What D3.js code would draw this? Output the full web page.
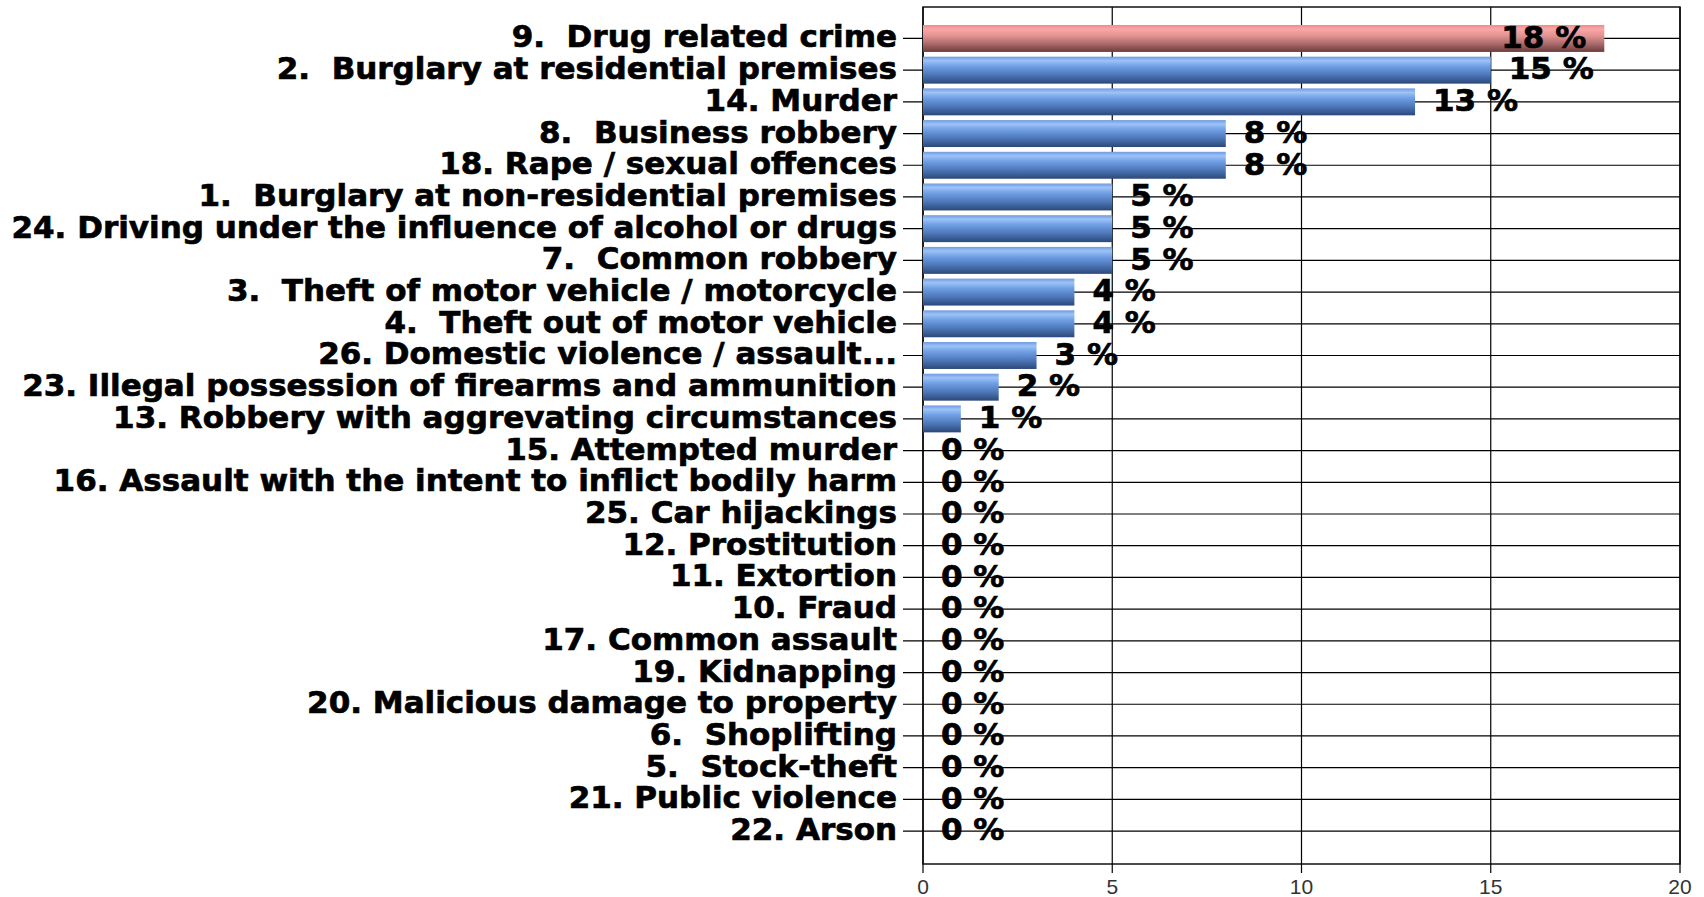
<!DOCTYPE html>
<html>
<head>
<meta charset="utf-8">
<script src="https://cdn.jsdelivr.net/npm/d3@7"></script>
<style>
  html, body { margin: 0; padding: 0; background: #fff; }
  svg { display: block; }
  text { white-space: pre; }
</style>
</head>
<body>
<svg id="chart" width="1704" height="897"></svg>
<script>
const categories = [
  "9.  Drug related crime",
  "2.  Burglary at residential premises",
  "14. Murder",
  "8.  Business robbery",
  "18. Rape / sexual offences",
  "1.  Burglary at non-residential premises",
  "24. Driving under the influence of alcohol or drugs",
  "7.  Common robbery",
  "3.  Theft of motor vehicle / motorcycle",
  "4.  Theft out of motor vehicle",
  "26. Domestic violence / assault...",
  "23. Illegal possession of firearms and ammunition",
  "13. Robbery with aggrevating circumstances",
  "15. Attempted murder",
  "16. Assault with the intent to inflict bodily harm",
  "25. Car hijackings",
  "12. Prostitution",
  "11. Extortion",
  "10. Fraud",
  "17. Common assault",
  "19. Kidnapping",
  "20. Malicious damage to property",
  "6.  Shoplifting",
  "5.  Stock-theft",
  "21. Public violence",
  "22. Arson"
];
const values = [18, 15, 13, 8, 8, 5, 5, 5, 4, 4, 3, 2, 1, 0, 0, 0, 0, 0, 0, 0, 0, 0, 0, 0, 0, 0];
const highlighted = ["9.  Drug related crime"];
const xTicks = [0, 5, 10, 15, 20];
const xDomain = [0, 20];

const svg = d3.select("#chart");
const plot = { left: 923, right: 1680, top: 7, bottom: 864 };

const x = d3.scaleLinear().domain(xDomain).range([plot.left, plot.right]);
const y = d3.scaleBand().domain(categories).range([22.6, 846.9]).paddingInner(0.15).paddingOuter(0.075);

const defs = svg.append("defs");
function grad(id, stops) {
  const g = defs.append("linearGradient").attr("id", id)
    .attr("x1", 0).attr("y1", 0).attr("x2", 0).attr("y2", 1);
  stops.forEach(s => g.append("stop").attr("offset", s[0]).attr("stop-color", s[1]));
}
grad("gBlue", [[0, "#6f9ae0"], [0.15, "#9dc3f7"], [0.35, "#71a0e6"], [0.7, "#4a74b4"], [1, "#2c4878"]]);
grad("gRed", [[0, "#f08a8a"], [0.15, "#f9a7a7"], [0.4, "#e39292"], [0.7, "#aa6a6a"], [1, "#6c3c3c"]]);

// vertical gridlines
svg.append("g").selectAll("line").data(xTicks).join("line")
  .attr("x1", d => x(d)).attr("x2", d => x(d))
  .attr("y1", plot.top).attr("y2", plot.bottom + 9)
  .attr("stroke", "#000").attr("stroke-width", 1.2);

// horizontal gridlines with ticks
svg.append("g").selectAll("line").data(categories).join("line")
  .attr("x1", plot.left - 20).attr("x2", plot.right)
  .attr("y1", d => y(d) + y.bandwidth() / 2).attr("y2", d => y(d) + y.bandwidth() / 2)
  .attr("stroke", "#000").attr("stroke-width", 1.2);

// plot frame
svg.append("rect")
  .attr("x", plot.left).attr("y", plot.top)
  .attr("width", plot.right - plot.left).attr("height", plot.bottom - plot.top)
  .attr("fill", "none").attr("stroke", "#000").attr("stroke-width", 1.4);

// bars
svg.append("g").selectAll("rect").data(categories).join("rect")
  .attr("x", x(0))
  .attr("y", d => y(d))
  .attr("height", y.bandwidth())
  .attr("width", (d, i) => x(values[i]) - x(0))
  .attr("fill", d => highlighted.includes(d) ? "url(#gRed)" : "url(#gBlue)");

// category labels
svg.append("g").selectAll("text").data(categories).join("text")
  .attr("x", 897)
  .attr("y", d => y(d) + y.bandwidth() / 2)
  .attr("dy", "0.29em")
  .attr("text-anchor", "end")
  .attr("font-family", "DejaVu Sans, sans-serif")
  .attr("font-weight", "bold")
  .attr("font-size", 31)
  .attr("fill", "#000")
  .attr("stroke", "#000").attr("stroke-width", 0.7)
  .text(d => d);

// value labels
svg.append("g").selectAll("text").data(categories).join("text")
  .attr("y", d => y(d) + y.bandwidth() / 2)
  .attr("dy", "0.3em")
  .attr("font-family", "DejaVu Sans, sans-serif")
  .attr("font-weight", "bold")
  .attr("font-size", 31)
  .attr("fill", "#000")
  .attr("stroke", "#000").attr("stroke-width", 0.7)
  .text((d, i) => values[i] + " %")
  .each(function (d, i) {
    const t = d3.select(this);
    const w = this.getComputedTextLength();
    const end = x(values[i]);
    if (end + 18 + w > plot.right) {
      t.attr("x", end - 18).attr("text-anchor", "end");
    } else {
      t.attr("x", end + 18).attr("text-anchor", "start");
    }
  });

// x tick labels
svg.append("g").selectAll("text").data(xTicks).join("text")
  .attr("x", d => x(d)).attr("y", 894)
  .attr("text-anchor", "middle")
  .attr("font-family", "Liberation Sans Narrow, Liberation Sans, sans-serif")
  .attr("font-size", 21)
  .attr("fill", "#333")
  .text(d => d);
</script>
</body>
</html>
